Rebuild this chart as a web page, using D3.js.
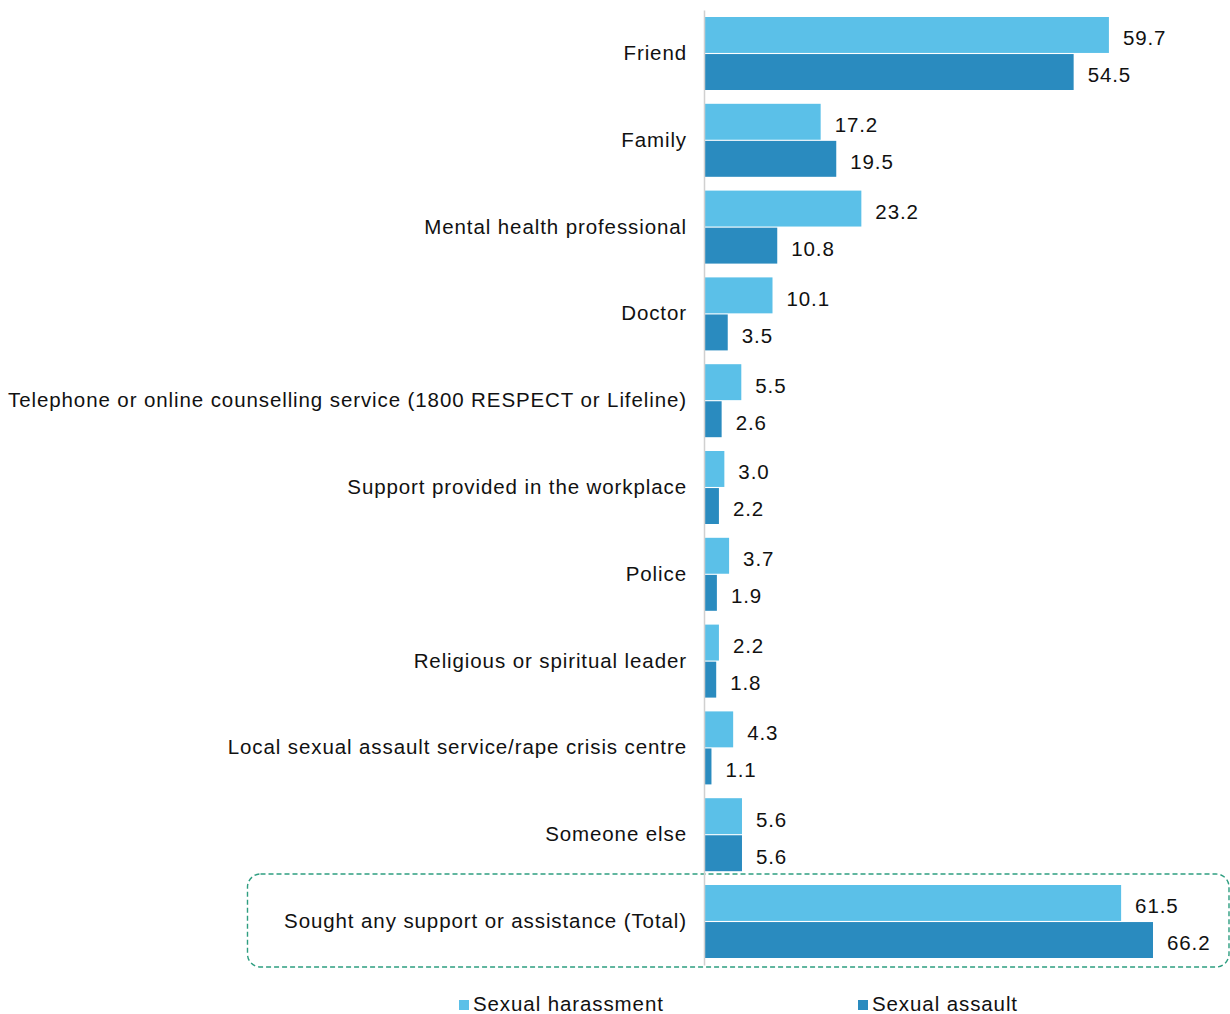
<!DOCTYPE html>
<html><head><meta charset="utf-8">
<script src="https://cdn.jsdelivr.net/npm/d3@7"></script>
<style>body{margin:0;background:#fff}svg{display:block}text{font-family:"Liberation Sans",Arial,sans-serif;fill:#111;letter-spacing:0.9px}</style>
</head><body><svg id="c" width="1230" height="1014"></svg>
<script>
const categories = ["Friend","Family","Mental health professional","Doctor","Telephone or online counselling service (1800 RESPECT or Lifeline)","Support provided in the workplace","Police","Religious or spiritual leader","Local sexual assault service/rape crisis centre","Someone else","Sought any support or assistance (Total)"];
const seriesNames = ["Sexual harassment","Sexual assault"];
const harassment = [59.7,17.2,23.2,10.1,5.5,3.0,3.7,2.2,4.3,5.6,61.5];
const assault = [54.5,19.5,10.8,3.5,2.6,2.2,1.9,1.8,1.1,5.6,66.2];
const colors = ["#5BC0E8","#2A8BBF"];

const svg = d3.select("#c");
const x0 = 704;
const FS = 20.5;
const x = d3.scaleLinear().domain([0,66.2]).range([x0, 1153]);
const y = d3.scaleBand().domain(categories).range([10.1, 964.9]).paddingInner(0.159).paddingOuter(0.0795);
const ySub = d3.scaleBand().domain(seriesNames).range([0, y.bandwidth()]).paddingInner(0.03);

// highlight box
const last = categories[categories.length-1];
svg.append("rect").attr("x",247.5).attr("y",y(last)-11).attr("width",1229-247.5).attr("height",y.bandwidth()+20)
  .attr("rx",13).attr("ry",13).attr("fill","none").attr("stroke","#2E9E80").attr("stroke-width",1.4).attr("stroke-dasharray","5,3");

const data = categories.map((c,i)=>({c, vals:[harassment[i],assault[i]]}));
const g = svg.selectAll("g.cat").data(data).join("g").attr("class","cat").attr("transform",d=>`translate(0,${y(d.c)})`);
g.selectAll("rect").data(d=>d.vals.map((v,j)=>({v,s:seriesNames[j],j}))).join("rect")
  .attr("x",x0).attr("y",d=>ySub(d.s)).attr("width",d=>x(d.v)-x0).attr("height",ySub.bandwidth()).attr("fill",d=>colors[d.j]);
g.selectAll("text.val").data(d=>d.vals.map((v,j)=>({v,s:seriesNames[j],j}))).join("text").attr("class","val")
  .attr("x",d=>x(d.v)+14).attr("y",d=>ySub(d.s)+ySub.bandwidth()/2+3).attr("dy","0.36em")
  .attr("font-size",FS).text(d=>d.v.toFixed(1));

// axis
const yAxis = d3.axisLeft(y).tickSize(0).tickPadding(17);
const ax = svg.append("g").attr("transform",`translate(${x0},0)`).call(yAxis);
ax.select(".domain").attr("stroke","#d0d0d0").attr("stroke-width",1.5);
ax.selectAll("text").attr("font-size",FS).attr("fill","#111").attr("font-family","'Liberation Sans',Arial,sans-serif");

// legend
const legX = [459, 858];
const lg = svg.selectAll("g.leg").data(seriesNames).join("g").attr("class","leg").attr("transform",(d,i)=>`translate(${legX[i]},1004)`);
lg.append("rect").attr("x",0).attr("y",-4).attr("width",10).attr("height",10).attr("fill",(d,i)=>colors[i]);
lg.append("text").attr("x",14).attr("dy","0.36em").attr("font-size",FS).text(d=>d);
</script></body></html>
